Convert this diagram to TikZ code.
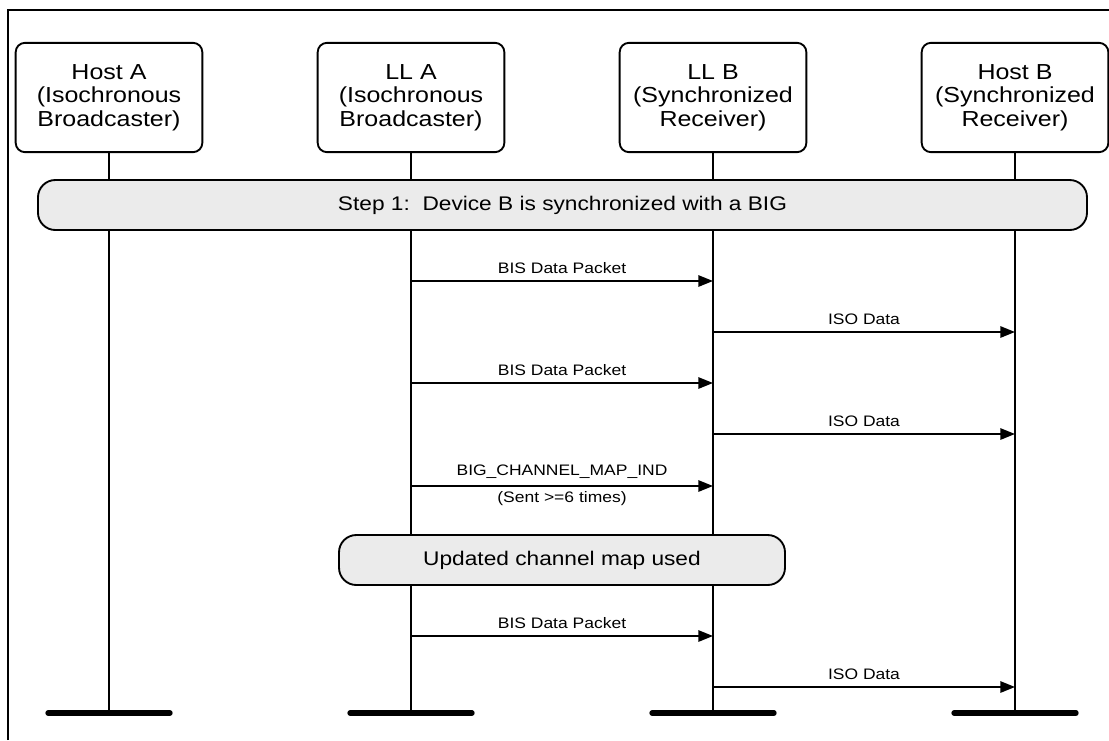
\documentclass[tikz,border=0pt]{standalone}
\usepackage{fontspec}
\setmainfont[FakeStretch=1.15]{Liberation Sans}
\usetikzlibrary{arrows.meta,positioning}
\definecolor{ink}{HTML}{000000}
\definecolor{wash}{HTML}{EBEBEB}
\tikzset{actor/.style={draw=ink,line width=1.4pt,rounded corners=7pt,align=center,font=\fontsize{16.3}{17.6}\selectfont,minimum width=140pt,minimum height=82pt,inner sep=0pt}, band/.style={draw=ink,line width=1.4pt,rounded corners=13pt,fill=wash,font=\fontsize{14.8}{17}\selectfont,minimum height=37.5pt,inner sep=0pt},life/.style={line width=1.4pt,draw=ink},msg/.style={-{Triangle[length=11pt,width=8.5pt]},line width=1.4pt,draw=ink},lbl/.style={font=\fontsize{11.4}{13}\selectfont,inner sep=0pt},bar/.style={line width=4pt,line cap=round,draw=ink}}

\begin{document}
\begin{tikzpicture}[x=0.75pt,y=-0.75pt]
\useasboundingbox (0,0) rectangle (1109,740);
\draw[life](8,740)--(8,10)--(1109,10);
\node[actor](ha) at (109,97.5){Host A\\(Isochronous\\Broadcaster)};\node[actor](la) at (411,97.5){LL A\\(Isochronous\\Broadcaster)};
\node[actor](lb) at (713,97.5){LL B\\(Synchronized\\Receiver)};\node[actor](hb) at (1015,97.5){Host B\\(Synchronized\\Receiver)};
\coordinate (bot) at (0,713);
\foreach \n in {ha,la,lb,hb}{\draw[life](\n.south)--(\n|-bot);\draw[bar]([xshift=-45.75pt]\n|-bot)--([xshift=45.75pt]\n|-bot);}
\node[band,minimum width=786.75pt](s1) at (562.5,205){Step 1:\ \ Device B is synchronized with a BIG};
\node[band,minimum width=334.5pt](s2) at (562,560){Updated channel map used};
% messages
\foreach \y/\a/\b/\t in {281/la/lb/BIS Data Packet,332/lb/hb/ISO Data,383/la/lb/BIS Data Packet,434/lb/hb/ISO Data,636/la/lb/BIS Data Packet,687/lb/hb/ISO Data}{\coordinate (r) at (0,\y);\draw[msg](\a|-r)--node[lbl,above=5pt]{\t}(\b|-r);}
\coordinate (r5) at (0,486);
\draw[msg](la|-r5)--node[lbl,above=5pt]{BIG\_CHANNEL\_MAP\_IND}node[lbl,below=3.5pt]{(Sent >=6 times)}(lb|-r5);
\end{tikzpicture}
\end{document}
